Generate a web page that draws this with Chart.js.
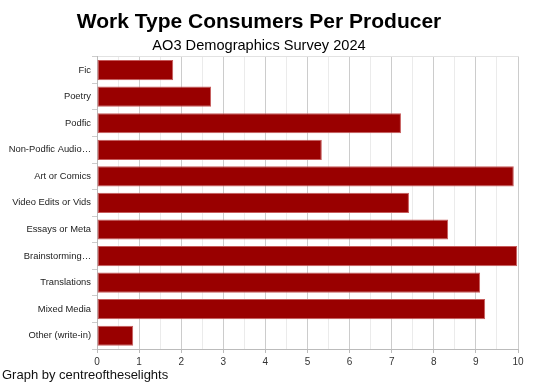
<!DOCTYPE html>
<html>
<head>
<meta charset="utf-8">
<style>
  html, body { margin: 0; padding: 0; background: #fff; }
  #wrap { position: relative; width: 540px; height: 384px; }
  #footer { position: absolute; left: 2px; top: 367px; font: 13px "Liberation Sans", Arial, sans-serif; color: #111; }
</style>
<script src="https://cdn.jsdelivr.net/npm/chart.js@4/dist/chart.umd.min.js"></script>
</head>
<body>
<div id="wrap">
  <canvas id="c" width="540" height="384"></canvas>
  <div id="footer">Graph by centreoftheselights</div>
</div>
<script>
// work types and the consumers-per-producer ratio
const workTypes = ['Fic', 'Poetry', 'Podfic', 'Non-Podfic Audio…', 'Art or Comics', 'Video Edits or Vids',
  'Essays or Meta', 'Brainstorming…', 'Translations', 'Mixed Media', 'Other (write-in)'];
const ratios = [1.81, 2.71, 7.22, 5.34, 9.9, 7.41, 8.34, 9.98, 9.1, 9.22, 0.86];
const xMin = 0, xMax = 10;

const font = '"Liberation Sans", Arial, sans-serif';
const isMajor = v => Number.isInteger(v);

new Chart(document.getElementById('c'), {
  type: 'bar',
  data: {
    labels: workTypes,
    datasets: [{
      data: ratios,
      backgroundColor: '#990000',
      borderColor: '#c65b5b',
      borderWidth: 1,
      borderSkipped: false,
      categoryPercentage: 0.76,
      barPercentage: 1,
    }],
  },
  options: {
    indexAxis: 'y',
    responsive: false,
    animation: false,
    layout: { padding: { top: 6, right: 22, bottom: 7, left: 0 } },
    plugins: {
      legend: { display: false },
      tooltip: { enabled: false },
      title: {
        display: true, text: 'Work Type Consumers Per Producer', color: '#000',
        font: { family: font, size: 21, weight: 'bold' }, padding: { top: 3.5, bottom: 3 },
      },
      subtitle: {
        display: true, text: 'AO3 Demographics Survey 2024', color: '#000',
        font: { family: font, size: 14.6 }, padding: { top: 0, bottom: 1.6 },
      },
    },
    scales: {
      x: {
        min: xMin, max: xMax,
        afterFit: s => { s.height = 28; },
        ticks: {
          stepSize: 0.5, color: '#333', font: { family: font, size: 10 }, padding: 3,
          autoSkip: false, maxRotation: 0,
          callback: v => isMajor(v) ? v : '',
        },
        grid: {
          tickLength: 4,
          color: ctx => isMajor(ctx.tick.value) ? '#cccccc' : '#ebebeb',
          tickColor: ctx => isMajor(ctx.tick.value) ? '#bbbbbb' : 'rgba(0,0,0,0)',
        },
        border: { color: '#bbbbbb' },
      },
      xTop: {
        position: 'top', axis: 'x', min: xMin, max: xMax,
        afterFit: s => { s.height = 0; },
        ticks: { display: false },
        grid: { display: false },
        border: { display: true, color: '#e2e2e2' },
      },
      y: {
        afterFit: s => { s.width = 97; },
        ticks: { color: '#222', font: { family: font, size: 9.4 }, padding: 1 },
        grid: { offset: true, drawOnChartArea: false, tickLength: 5, color: '#cccccc' },
        border: { color: '#bbbbbb' },
      },
    },
  },
});
</script>
</body>
</html>
